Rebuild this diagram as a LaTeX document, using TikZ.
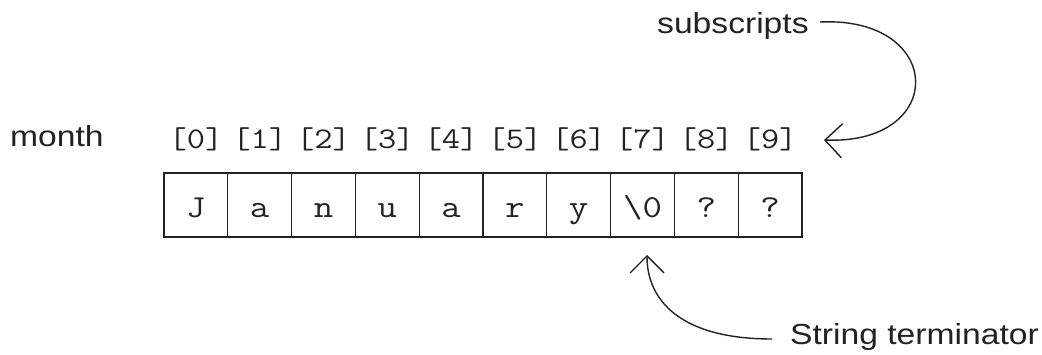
\documentclass[tikz,border=0pt]{standalone}
\usepackage{fontspec}
\usepackage{graphicx}
\setmainfont{Liberation Sans}
\usetikzlibrary{arrows.meta}
\newcommand{\sx}[1]{\scalebox{1.16}[1]{#1}}
\newcommand{\mx}[1]{\scalebox{1.18}[1]{#1}}
\definecolor{ink}{HTML}{222222}
\tikzset{
  cell/.style={draw=ink, line width=1.3pt, minimum width=63.8pt, minimum height=64pt, inner sep=0pt, outer sep=0pt},
  celltext/.style={font=\ttfamily\fontsize{32}{32}\selectfont, text=ink},
  idx/.style={font=\ttfamily\fontsize{30}{30}\selectfont, text=ink, anchor=base, inner sep=0pt},
  lbl/.style={font=\fontsize{29}{29}\selectfont, text=ink, anchor=base west, inner sep=0pt},
  curvearrow/.style={draw=ink, line width=1.4pt, -{Straight Barb[length=17pt,width=34pt,line width=1.4pt]}}
}
\begin{document}
\begin{tikzpicture}[x=1pt,y=-1pt]
\useasboundingbox (0,0) rectangle (1042,355);
\foreach \ch [count=\i from 0] in {J,a,n,u,a,r,y,{\textbackslash 0},?,?}{
  \node[cell] (c\i) at ({164+63.8*(\i+0.5)},205) {};
  \node[celltext, anchor=base, inner sep=0pt] (t\i) at ({164+63.8*(\i+0.5)},218) {\mx{\ch}};
  \node[idx] (i\i) at ({164+63.8*(\i+0.5)},149) {\mx{[\i]}};
}
\node[lbl] (month) at (10,147) {\sx{month}};
\node[lbl] (subs) at (657,34) {\sx{subscripts}};
\node[lbl] (term) at (790,345) {\sx{String terminator}};
\coordinate (s0) at (820,22);
\coordinate (s1) at (824,140);
\coordinate (e0) at (772,339);
\coordinate (e1) at (647,255);
\draw[curvearrow] (s0) .. controls (945,16) and (948,145) .. (s1);
\draw[curvearrow] (e0) .. controls (680,339) and (647,300) .. (e1);
\end{tikzpicture}
\end{document}
